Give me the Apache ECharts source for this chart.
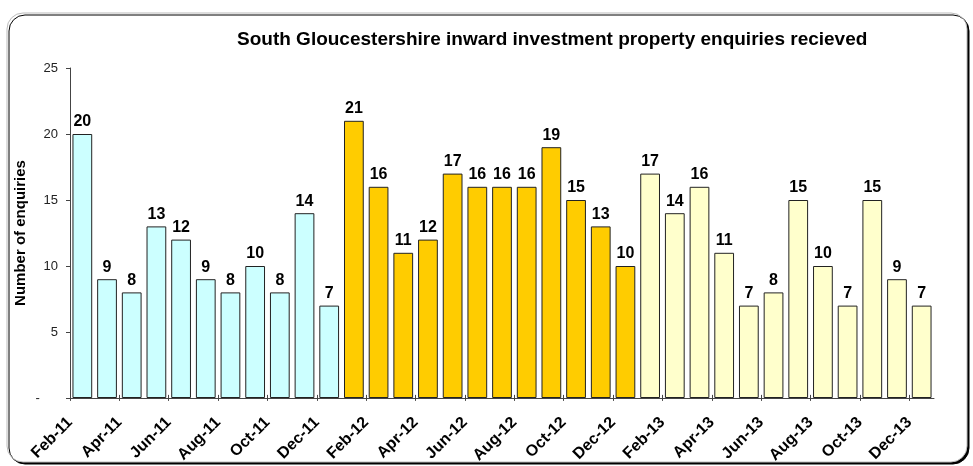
<!DOCTYPE html>
<html>
<head>
<meta charset="utf-8">
<script src="https://cdn.jsdelivr.net/npm/echarts@6/dist/echarts.min.js"></script>
<style>
  html, body { margin: 0; padding: 0; background: #fff; }
  #main { width: 973px; height: 466px; }
</style>
</head>
<body>
<div id="main"></div>
<script>
// months Feb-11 .. Dec-13 (one bar each)
var months = [
    'Feb-11','Mar-11','Apr-11','May-11','Jun-11','Jul-11','Aug-11','Sep-11','Oct-11','Nov-11','Dec-11',
    'Jan-12','Feb-12','Mar-12','Apr-12','May-12','Jun-12','Jul-12','Aug-12','Sep-12','Oct-12','Nov-12','Dec-12',
    'Jan-13','Feb-13','Mar-13','Apr-13','May-13','Jun-13','Jul-13','Aug-13','Sep-13','Oct-13','Nov-13','Dec-13'
];
var enq2011 = [20, 9, 8, 13, 12, 9, 8, 10, 8, 14, 7];
var enq2012 = [21, 16, 11, 12, 17, 16, 16, 16, 19, 15, 13, 10];
var enq2013 = [17, 14, 16, 11, 7, 8, 15, 10, 7, 15, 9, 7];
var yTicks = [0, 5, 10, 15, 20, 25];

var FONT = 'Liberation Sans, Arial, sans-serif';

// pad each year out to the full month list
function pad(before, vals, after) {
    var out = [];
    for (var i = 0; i < before; i++) out.push('-');
    out = out.concat(vals);
    for (var j = 0; j < after; j++) out.push('-');
    return out;
}
var s11 = pad(0, enq2011, enq2012.length + enq2013.length);
var s12 = pad(enq2011.length, enq2012, enq2013.length);
var s13 = pad(enq2011.length + enq2012.length, enq2013, 0);

var gridLeft = 70, gridRight = 39;
var band = (973 - gridLeft - gridRight) / months.length;

function barSeries(name, data, color) {
    return {
        name: name,
        type: 'bar',
        xAxisIndex: 0,
        yAxisIndex: 0,
        data: data,
        barGap: '-100%',
        barCategoryGap: '20%',
        itemStyle: { color: color, borderColor: '#222', borderWidth: 1 },
        label: {
            show: true,
            position: 'top',
            distance: 4,
            color: '#000',
            fontFamily: FONT,
            fontWeight: 'bold',
            fontSize: 16
        }
    };
}

var myChart = echarts.init(document.getElementById('main'));

var option = {
    animation: false,
    backgroundColor: '#fff',
    graphic: [{
        type: 'rect',
        z: -10,
        shape: { x: 7, y: 13, width: 960, height: 449, r: 16 },
        style: {
            fill: '#fff',
            stroke: '#bbb',
            lineWidth: 1,
            shadowColor: '#000',
            shadowOffsetX: 2,
            shadowOffsetY: 2,
            shadowBlur: 0
        }
    }],
    title: {
        text: 'South Gloucestershire inward investment property enquiries recieved',
        left: 232,
        top: 25,
        textStyle: { fontFamily: FONT, fontWeight: 'bold', fontSize: 19, color: '#000' }
    },
    grid: [
        { left: gridLeft, right: gridRight, top: 68, bottom: 68 },
        // tick/label grid: stops one band short so ticks land on every 2nd bar's left edge
        { left: gridLeft, right: gridRight + band, top: 68, bottom: 68 }
    ],
    xAxis: [
        {
            type: 'category',
            gridIndex: 0,
            data: months,
            axisLine: { lineStyle: { color: '#444', width: 1 } },
            axisTick: { show: false },
            axisLabel: { show: false }
        },
        {
            type: 'value',
            gridIndex: 1,
            min: 0,
            max: months.length - 1,
            interval: 2,
            axisLine: { show: false },
            axisTick: { show: true, length: 6, lineStyle: { color: '#444' } },
            splitLine: { show: false },
            axisLabel: {
                rotate: 45,
                margin: 25,
                color: '#000',
                fontFamily: FONT,
                fontWeight: 'bold',
                fontSize: 16,
                formatter: function (v) { return months[v] || ''; }
            }
        }
    ],
    yAxis: [
        {
            type: 'value',
            gridIndex: 0,
            min: yTicks[0],
            max: yTicks[yTicks.length - 1],
            interval: 5,
            name: 'Number of enquiries',
            nameLocation: 'middle',
            nameRotate: 90,
            nameGap: 42,
            nameMoveOverlap: false,
            nameTextStyle: { fontFamily: FONT, fontWeight: 'bold', fontSize: 15, color: '#000' },
            axisLine: { show: true, lineStyle: { color: '#444', width: 1 } },
            axisTick: { show: true, length: 4, lineStyle: { color: '#444' } },
            splitLine: { show: false },
            axisLabel: {
                margin: 12,
                color: '#222',
                fontFamily: FONT,
                fontSize: 13,
                formatter: function (v) { return v === 0 ? '-     ' : String(v); }
            }
        },
        {
            type: 'value',
            gridIndex: 1,
            min: 0,
            max: 25,
            show: false
        }
    ],
    series: [
        barSeries('2011', s11, '#CCFFFF'),
        barSeries('2012', s12, '#FFCC00'),
        barSeries('2013', s13, '#FFFFCC')
    ]
};

myChart.setOption(option);
</script>
</body>
</html>
